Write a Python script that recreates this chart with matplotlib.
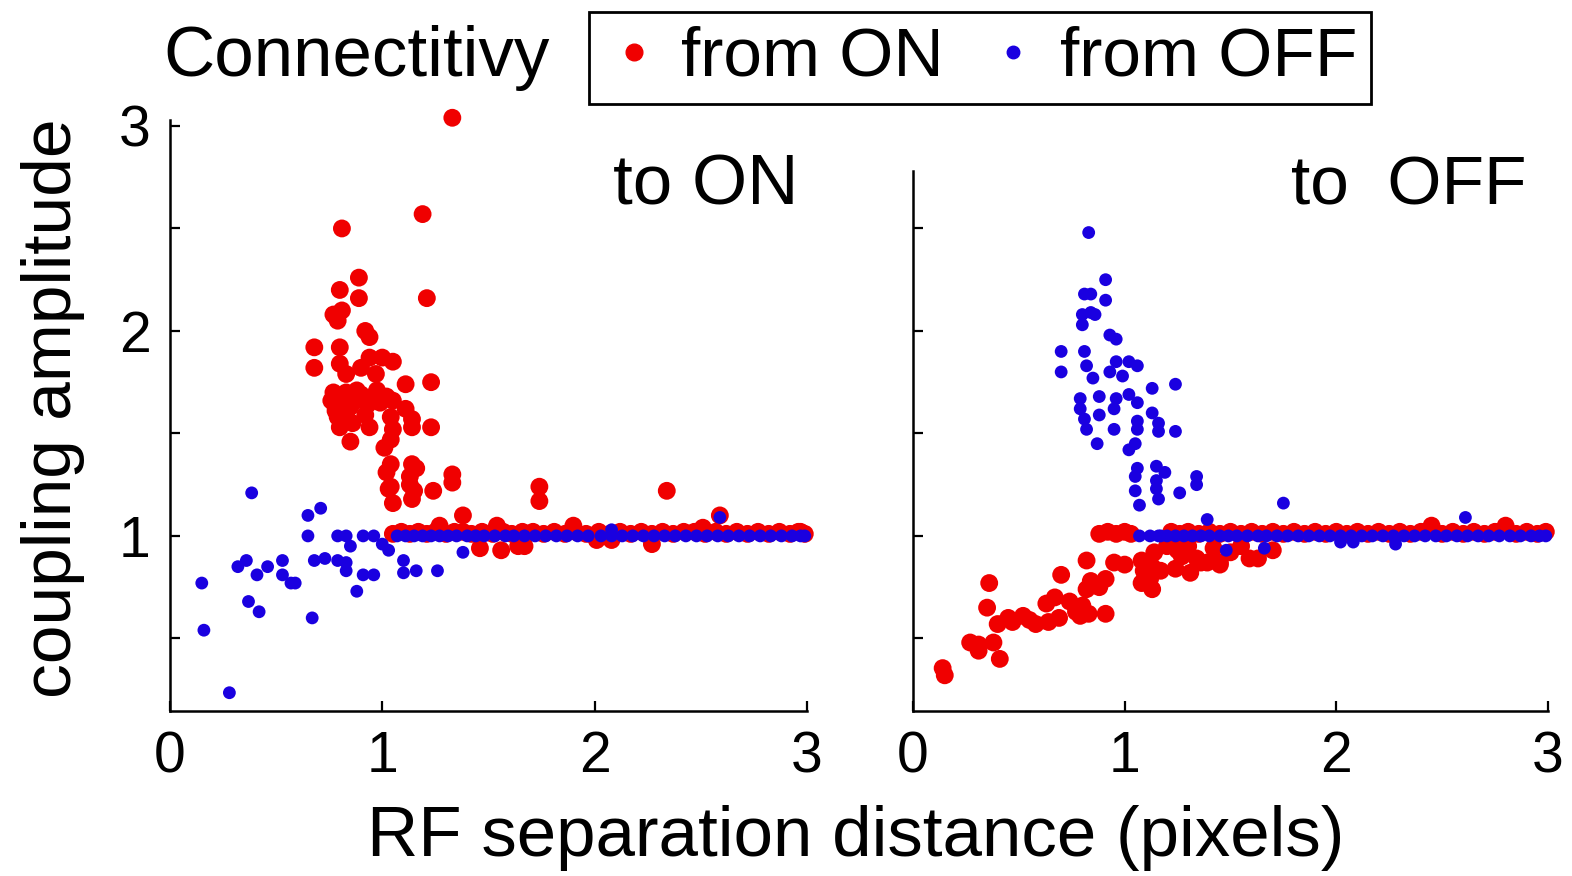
import matplotlib
matplotlib.use("Agg")
import matplotlib.pyplot as plt
from matplotlib.lines import Line2D

plt.rcParams["font.family"] = ["Liberation Sans", "DejaVu Sans"]

# ---- data: left panel ("to ON") ----
on_to_on_x = [1.33, 1.19, 0.81, 0.89, 0.80, 0.89, 1.21, 0.81, 0.79, 0.77, 0.92, 0.94,
              0.68, 0.80, 0.68, 0.80, 0.83, 0.94, 1.00, 1.05, 0.90, 0.97, 1.11, 1.23,
              0.77, 0.83, 0.90, 0.975, 1.02, 0.78, 0.85, 0.93, 0.99, 1.05, 0.79, 0.83,
              0.80, 0.94, 1.04, 1.11, 1.14, 1.14, 1.23, 1.05, 0.85, 1.04, 1.01, 1.04,
              1.02, 1.03, 1.05, 1.14, 1.16, 1.13, 1.15, 1.14, 1.24, 1.33, 1.33, 1.38,
              0.76, 0.81, 0.87, 0.78, 0.88, 0.96, 0.92, 0.86, 1.04, 1.13,
              1.27, 1.54, 1.90, 2.51, 2.97, 1.74, 1.74, 2.34, 2.59, 1.46, 1.56, 1.64,
              1.67, 2.01, 2.08, 2.27]
on_to_on_y = [3.04, 2.57, 2.50, 2.26, 2.20, 2.16, 2.16, 2.10, 2.05, 2.08, 2.00, 1.97,
              1.92, 1.92, 1.82, 1.84, 1.79, 1.87, 1.87, 1.85, 1.82, 1.79, 1.74, 1.75,
              1.70, 1.70, 1.69, 1.71, 1.68, 1.63, 1.63, 1.64, 1.65, 1.66, 1.58, 1.60,
              1.53, 1.53, 1.58, 1.62, 1.57, 1.53, 1.53, 1.52, 1.46, 1.47, 1.43, 1.35,
              1.31, 1.23, 1.16, 1.35, 1.33, 1.29, 1.22, 1.18, 1.22, 1.30, 1.26, 1.10,
              1.66, 1.67, 1.66, 1.61, 1.71, 1.68, 1.59, 1.55, 1.24, 1.25,
              1.05, 1.05, 1.05, 1.04, 1.02, 1.24, 1.17, 1.22, 1.10, 0.94, 0.93, 0.95,
              0.95, 0.98, 0.98, 0.96]
on_to_on_line_x = [1.05, 1.09, 1.13, 1.17, 1.21, 1.25, 1.30, 1.34, 1.38, 1.42, 1.47, 1.52,
                   1.57, 1.61, 1.66, 1.71, 1.76, 1.81, 1.86, 1.91, 1.96, 2.02, 2.07, 2.12,
                   2.17, 2.22, 2.27, 2.32, 2.37, 2.42, 2.47, 2.52, 2.57, 2.62, 2.67, 2.72,
                   2.77, 2.82, 2.87, 2.92, 2.96, 2.99]
on_to_on_line_y = [1.01, 1.02, 1.01, 1.02, 1.01, 1.02, 1.01, 1.02, 1.02, 1.01, 1.02, 1.01,
                   1.02, 1.01, 1.02, 1.02, 1.01, 1.02, 1.01, 1.02, 1.01, 1.02, 1.01, 1.02,
                   1.01, 1.02, 1.01, 1.02, 1.01, 1.02, 1.02, 1.01, 1.02, 1.01, 1.02, 1.01,
                   1.02, 1.01, 1.02, 1.01, 1.02, 1.01]

off_to_on_x = [0.385, 0.65, 0.71, 0.65, 0.79, 0.83, 0.85, 0.91, 0.96, 1.00, 1.03, 0.15,
               0.32, 0.36, 0.41, 0.46, 0.53, 0.53, 0.57, 0.59, 0.37, 0.42, 0.16, 0.28,
               0.67, 0.68, 0.73, 0.79, 0.83, 0.83, 0.88, 0.91, 0.96, 1.10, 1.10, 1.16,
               1.26, 1.38, 2.08, 2.59]
off_to_on_y = [1.21, 1.10, 1.135, 1.00, 1.00, 1.00, 0.95, 1.00, 1.00, 0.96, 0.93, 0.77,
               0.85, 0.88, 0.81, 0.85, 0.88, 0.81, 0.77, 0.77, 0.68, 0.63, 0.54, 0.235,
               0.60, 0.88, 0.89, 0.88, 0.87, 0.83, 0.73, 0.81, 0.81, 0.88, 0.82, 0.83,
               0.83, 0.92, 1.03, 1.09]
off_to_on_line_x = [1.07, 1.11, 1.15, 1.19, 1.23, 1.27, 1.31, 1.35, 1.40, 1.44, 1.48, 1.53,
                    1.58, 1.62, 1.67, 1.72, 1.77, 1.82, 1.87, 1.92, 1.97, 2.03, 2.08, 2.13,
                    2.18, 2.23, 2.28, 2.33, 2.38, 2.43, 2.48, 2.53, 2.58, 2.63, 2.68, 2.73,
                    2.78, 2.83, 2.88, 2.93, 2.97, 2.99]
off_to_on_line_y = [1.0] * len(off_to_on_line_x)

# ---- data: right panel ("to OFF") ----
off_to_off_x = [0.83, 0.91, 0.81, 0.84, 0.91, 0.80, 0.84, 0.86, 0.80, 0.93, 0.96, 0.70,
                0.70, 0.81, 0.82, 0.85, 0.96, 1.02, 1.06, 0.93, 0.99, 1.13, 1.24, 0.79,
                0.79, 0.88, 0.96, 1.02, 0.95, 1.06, 0.88, 0.81, 0.82, 0.87, 0.95, 1.13,
                1.16, 1.16, 1.24, 1.06, 1.06, 1.05, 1.02, 1.06, 1.05, 1.05, 1.07, 1.15,
                1.19, 1.15, 1.15, 1.16, 1.26, 1.34, 1.34, 1.39, 1.75, 2.61, 2.02, 2.08,
                2.28, 1.48, 1.66, 1.07, 1.17]
off_to_off_y = [2.48, 2.25, 2.18, 2.18, 2.15, 2.08, 2.09, 2.08, 2.03, 1.98, 1.96, 1.90,
                1.80, 1.90, 1.83, 1.77, 1.85, 1.85, 1.83, 1.80, 1.78, 1.72, 1.74, 1.67,
                1.62, 1.68, 1.67, 1.69, 1.62, 1.65, 1.59, 1.57, 1.52, 1.45, 1.52, 1.60,
                1.55, 1.51, 1.51, 1.56, 1.52, 1.45, 1.42, 1.33, 1.29, 1.22, 1.15, 1.34,
                1.31, 1.27, 1.23, 1.18, 1.21, 1.29, 1.25, 1.08, 1.16, 1.09, 0.97, 0.97,
                0.96, 0.93, 0.94, 1.00, 1.00]
off_to_off_line_x = [1.12, 1.16, 1.20, 1.24, 1.28, 1.32, 1.36, 1.40, 1.45, 1.49, 1.53, 1.58,
                     1.63, 1.67, 1.72, 1.77, 1.82, 1.87, 1.92, 1.97, 2.02, 2.07, 2.12, 2.17,
                     2.22, 2.27, 2.32, 2.37, 2.42, 2.47, 2.52, 2.57, 2.62, 2.67, 2.72, 2.77,
                     2.82, 2.87, 2.92, 2.96, 2.99]
off_to_off_line_y = [1.0] * len(off_to_off_line_x)

on_to_off_x = [0.14, 0.15, 0.27, 0.31, 0.38, 0.31, 0.41, 0.36, 0.35, 0.40, 0.45, 0.52,
               0.58, 0.64, 0.69, 0.63, 0.67, 0.74, 0.77, 0.80, 0.79, 0.83, 0.70, 0.91,
               0.82, 0.84, 0.88, 0.91, 0.82, 0.95, 1.00, 1.08, 1.09, 1.12, 1.08, 1.13,
               1.14, 1.13, 1.17, 1.24, 1.27, 1.31, 1.34, 1.39, 1.45, 1.36, 1.45, 1.59,
               1.63, 1.70, 2.45, 2.80, 1.20, 1.25, 1.30, 1.42, 1.50, 1.55, 0.47, 0.55]
on_to_off_y = [0.355, 0.32, 0.48, 0.47, 0.48, 0.44, 0.40, 0.77, 0.65, 0.57, 0.60, 0.61,
               0.57, 0.58, 0.60, 0.67, 0.70, 0.68, 0.63, 0.66, 0.61, 0.62, 0.81, 0.62,
               0.74, 0.78, 0.75, 0.79, 0.88, 0.87, 0.86, 0.88, 0.83, 0.79, 0.77, 0.74,
               0.92, 0.85, 0.83, 0.84, 0.90, 0.82, 0.89, 0.87, 0.87, 0.87, 0.86, 0.89,
               0.89, 0.93, 1.05, 1.05, 0.95, 0.93, 0.95, 0.94, 0.92, 0.95, 0.58, 0.59]
on_to_off_line_x = [0.88, 0.92, 0.96, 1.00, 1.03, 1.22, 1.26, 1.30, 1.35, 1.40, 1.45, 1.50,
                    1.55, 1.60, 1.65, 1.70, 1.75, 1.80, 1.85, 1.90, 1.95, 2.00, 2.05, 2.10,
                    2.15, 2.20, 2.25, 2.30, 2.35, 2.40, 2.50, 2.55, 2.60, 2.65, 2.70, 2.75,
                    2.85, 2.90, 2.95, 2.99]
on_to_off_line_y = [1.01, 1.02, 1.01, 1.02, 1.01, 1.02, 1.01, 1.02, 1.01, 1.02, 1.01, 1.02,
                    1.01, 1.02, 1.01, 1.02, 1.01, 1.02, 1.01, 1.02, 1.01, 1.02, 1.01, 1.02,
                    1.01, 1.02, 1.01, 1.02, 1.01, 1.02, 1.01, 1.02, 1.01, 1.02, 1.01, 1.02,
                    1.01, 1.02, 1.01, 1.02]

x_ticks = [0, 1, 2, 3]
y_ticks = [0.5, 1, 1.5, 2, 2.5, 3]
y_tick_labels = ["", "1", "", "2", "", "3"]

RED = "#f00000"
BLUE = "#1a00e0"
S_RED = 165
S_BLUE = 85

fig = plt.figure(figsize=(15.72, 8.76), dpi=100)
fig.patch.set_facecolor("white")

ax1 = fig.add_axes([0.1081, 0.1884, 0.4052, 0.6795])
ax2 = fig.add_axes([0.5808, 0.1884, 0.4039, 0.6795])

panels = [
    (ax1, on_to_on_x + on_to_on_line_x, on_to_on_y + on_to_on_line_y,
     off_to_on_x + off_to_on_line_x, off_to_on_y + off_to_on_line_y),
    (ax2, on_to_off_x + on_to_off_line_x, on_to_off_y + on_to_off_line_y,
     off_to_off_x + off_to_off_line_x, off_to_off_y + off_to_off_line_y),
]

for ax, rx, ry, bx, by in panels:
    ax.scatter(rx, ry, s=S_RED, color=RED, edgecolors="none", clip_on=False, zorder=3)
    ax.scatter(bx, by, s=S_BLUE, color=BLUE, edgecolors="none", clip_on=False, zorder=4)
    ax.set_xlim(0, 3)
    ax.set_ylim(0.146, 3.05)
    ax.spines["top"].set_visible(False)
    ax.spines["right"].set_visible(False)
    for sp in ("left", "bottom"):
        ax.spines[sp].set_linewidth(1.8)
    ax.set_xticks(x_ticks)
    ax.set_yticks(y_ticks)
    ax.tick_params(direction="in", length=7, width=1.6, labelsize=41, pad=14)

ax1.set_yticklabels(y_tick_labels)
ax1.spines["left"].set_bounds(0.146, 3.03)
ax2.set_yticks(y_ticks[:-1])
ax2.set_yticklabels([])
ax2.spines["left"].set_bounds(0.146, 2.78)

ax1.text(2.96, 2.615, "to ON", fontsize=51, ha="right", va="baseline")
ax2.text(2.90, 2.615, "to  OFF", fontsize=50, ha="right", va="baseline")

fig.text(856 / 1572, 1 - 838 / 876, "RF separation distance (pixels)",
         fontsize=51, ha="center", va="center")
fig.text(0.034, 1 - 408 / 876, "coupling amplitude", fontsize=50,
         rotation=90, ha="center", va="center")
fig.text(163 / 1572, 1 - 58 / 876, "Connectitivy", fontsize=51,
         ha="left", va="center")

handles = [
    Line2D([], [], marker="o", linestyle="none", color=RED, markersize=12),
    Line2D([], [], marker="o", linestyle="none", color=BLUE, markersize=9),
]
leg = fig.legend(handles, ["from ON", "from OFF"], loc="center",
                 bbox_to_anchor=(980 / 1572, 1 - 58 / 876), ncol=2,
                 fontsize=50, frameon=True, fancybox=False, framealpha=1,
                 handlelength=0.9, handletextpad=0.22, columnspacing=0.56,
                 borderpad=0.2, borderaxespad=0)
leg.get_frame().set_edgecolor("black")
leg.get_frame().set_linewidth(2)

fig.savefig("out.png", dpi=100, facecolor="white")
